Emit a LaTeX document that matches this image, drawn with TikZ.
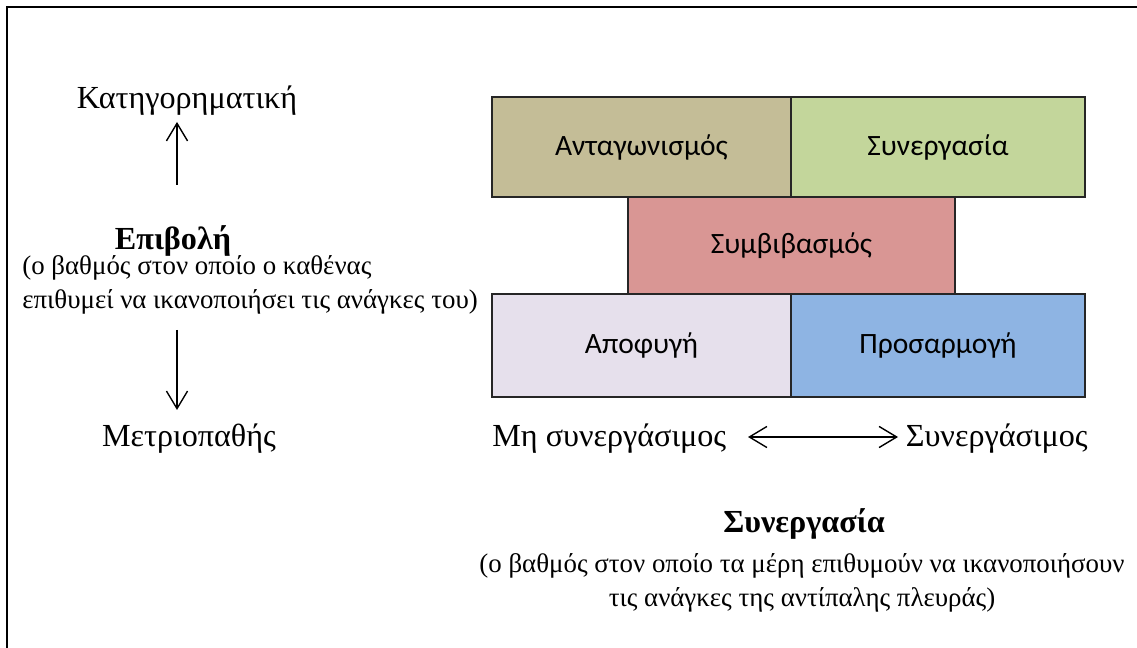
\documentclass[tikz,border=0pt]{standalone}
\usepackage{fontspec}
\setmainfont{Liberation Serif}
\newfontfamily\boxfont{Carlito}
\usetikzlibrary{arrows.meta}

\definecolor{tanbox}{HTML}{C4BD97}
\definecolor{greenbox}{HTML}{C3D69B}
\definecolor{redbox}{HTML}{D99694}
\definecolor{lilacbox}{HTML}{E6E0EC}
\definecolor{bluebox}{HTML}{8EB4E3}

\tikzset{
  zone/.style={draw=black!85, line width=0.6pt},
  zonetext/.style={font=\boxfont\fontsize{16.8}{20}\selectfont, text=black},
  label/.style={font=\fontsize{18.3}{22}\selectfont, inner sep=0pt},
  note/.style={font=\fontsize{15.3}{19.3}\selectfont, inner sep=0pt},
  axis/.style={line width=0.8pt, -{Straight Barb[length=10pt,width=12pt]}},
}

\begin{document}
\begin{tikzpicture}[x=0.02cm, y=-0.02cm]
            \useasboundingbox (0,0) rectangle (1137,648);
            \draw[line width=1.4pt] (7,648) -- (7,7) -- (1137,7);
            % the five styles
            \filldraw[zone, fill=tanbox] (492,97) rectangle (791,197) node[midway, zonetext] (comp) {Ανταγωνισμός};
            \filldraw[zone, fill=greenbox] (791,97) rectangle (1085,197) node[midway, zonetext] (coop) {Συνεργασία};
            \filldraw[zone, fill=redbox] (628,197) rectangle (955,294) node[midway, zonetext] (compr) {Συμβιβασμός};
            \filldraw[zone, fill=lilacbox] (492,294) rectangle (791,397) node[midway, zonetext] (avoid) {Αποφυγή};
            \filldraw[zone, fill=bluebox] (791,294) rectangle (1085,397) node[midway, zonetext] (accom) {Προσαρμογή};
            % vertical axis
            \node[label] (kat) at (187,101) {Κατηγορηματική};
            \node[label, font=\bfseries\fontsize{18.3}{22}\selectfont] (impose) at (173,241) {Επιβολή};
            \node[note, anchor=west, align=left] (impdesc) at (22,285) {(ο βαθμός στον οποίο ο καθένας\\επιθυμεί να ικανοποιήσει τις ανάγκες του)};
            \node[label] (metr) at (189,439) {Μετριοπαθής};
            \coordinate (upS) at (177,185);
            \coordinate (upT) at (177,122);
            \coordinate (dnS) at (177,330);
            \coordinate (dnT) at (177,410);
            \draw[axis] (upS) -- (upT);
            \draw[axis] (dnS) -- (dnT);
            % horizontal axis
            \node[label, anchor=west] (noncoop) at (492,439) {Μη συνεργάσιμος};
            \node[label, anchor=east] (coopable) at (1088,439) {Συνεργάσιμος};
            \coordinate (lrL) at (748,437);
            \coordinate (lrR) at (898,437);
            \draw[axis, {Straight Barb[length=10pt,width=12pt]}-{Straight Barb[length=10pt,width=12pt]}] (lrL) -- (lrR);
            \node[label, font=\bfseries\fontsize{18.3}{22}\selectfont] (synerg) at (804,524) {Συνεργασία};
            \node[note, align=center] (syndesc) at (802,583) {(ο βαθμός στον οποίο τα μέρη επιθυμούν να ικανοποιήσουν\\τις ανάγκες της αντίπαλης πλευράς)};
        \end{tikzpicture}
\end{document}
